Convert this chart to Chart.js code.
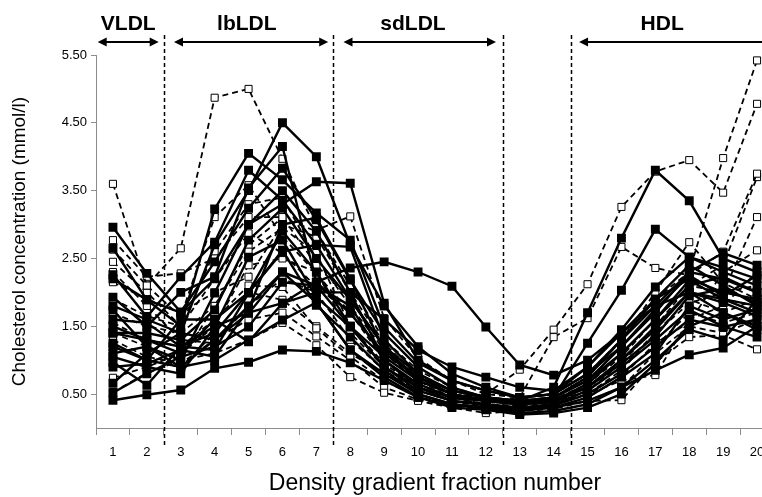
<!DOCTYPE html>
<html>
<head>
<meta charset="utf-8">
<script src="https://cdn.jsdelivr.net/npm/chart.js@4.4.1/dist/chart.umd.min.js"></script>
<style>
  html, body { margin: 0; padding: 0; background: #fff; overflow: hidden; }
  #wrap { width: 762px; height: 497px; overflow: hidden; position: relative; }
  #box { position: absolute; left: 0; top: 0; width: 790px; height: 497px; }
</style>
</head>
<body>
<div id="wrap"><div id="box"><canvas id="chart"></canvas></div></div>
<script>
// fraction numbers on the x axis
const fractions = ['1','2','3','4','5','6','7','8','9','10','11','12','13','14','15','16','17','18','19','20'];
const yTicks = [0.5, 1.5, 2.5, 3.5, 4.5, 5.5];

// lipoprotein regions (in fraction units) and the dashed dividers
const regionLabels = ['VLDL', 'lbLDL', 'sdLDL', 'HDL'];
const regionFrom = [0.55, 2.8, 7.8, 14.75];
const regionTo = [2.35, 7.35, 12.3, 20.6];
const regionLabelAt = [1.45, 4.95, 9.85, 17.2];
const dividers = [2.5, 7.5, 12.5, 14.5];

// solid lines, filled squares (mmol/l, fraction 1..20)
const solid1 = [1.80, 1.60, 1.40, 2.70, 3.50, 4.50, 4.00, 2.70, 1.80, 1.20, 0.80, 0.60, 0.45, 0.50, 0.90, 1.40, 1.90, 2.20, 2.00, 1.90];
const solid2 = [2.20, 1.89, 1.70, 2.20, 3.00, 3.30, 3.63, 3.61, 1.84, 1.00, 0.70, 0.55, 0.45, 0.50, 0.80, 1.30, 1.80, 2.30, 2.20, 2.00];
const solid3 = [1.40, 1.30, 1.20, 1.50, 1.70, 1.84, 2.15, 2.36, 2.45, 2.30, 2.09, 1.49, 0.93, 0.78, 1.00, 1.40, 1.80, 2.00, 1.90, 1.80];
const solid4 = [1.20, 1.00, 0.90, 1.30, 1.80, 2.30, 2.10, 1.50, 0.90, 0.60, 0.45, 0.40, 0.40, 0.60, 1.70, 2.80, 3.80, 3.35, 2.50, 2.30];
const solid5 = [1.50, 1.30, 1.10, 1.60, 2.00, 2.60, 2.70, 1.90, 1.20, 0.70, 0.50, 0.40, 0.35, 0.45, 1.25, 2.03, 2.93, 2.52, 2.37, 2.20];
const solid6 = [0.41, 0.49, 0.56, 0.88, 0.97, 1.15, 1.13, 0.96, 0.70, 0.45, 0.33, 0.30, 0.25, 0.30, 0.40, 0.60, 0.85, 1.08, 1.18, 1.50];
const solid7 = [2.96, 2.28, 1.71, 2.45, 3.24, 3.83, 3.07, 2.18, 1.40, 0.90, 0.60, 0.45, 0.40, 0.45, 0.70, 1.10, 1.60, 2.18, 1.90, 1.70];
const solid8 = [2.65, 1.89, 1.50, 3.23, 4.05, 3.66, 3.17, 2.77, 1.49, 0.96, 0.70, 0.55, 0.45, 0.50, 0.80, 1.20, 1.70, 2.30, 2.58, 2.40];
const solid9 = [2.26, 1.64, 2.23, 2.74, 3.80, 3.36, 2.70, 2.67, 1.30, 0.80, 0.55, 0.45, 0.40, 0.45, 0.75, 1.30, 1.90, 2.40, 2.10, 1.80];
const solid10 = [1.93, 1.50, 2.00, 2.23, 3.54, 4.15, 2.15, 1.69, 1.10, 0.75, 0.50, 0.40, 0.35, 0.40, 0.60, 1.00, 1.50, 2.00, 1.70, 1.50];
const solid11 = [1.74, 1.20, 1.00, 1.99, 3.00, 3.50, 2.90, 2.00, 1.00, 0.60, 0.40, 0.35, 0.30, 0.35, 0.55, 0.90, 1.30, 1.74, 1.50, 1.34];
const solid12 = [1.40, 1.40, 1.30, 1.74, 2.77, 3.24, 2.50, 1.89, 1.20, 0.80, 0.55, 0.45, 0.38, 0.40, 0.65, 1.10, 1.60, 2.10, 2.23, 2.00];
const solid13 = [1.05, 0.90, 0.80, 1.49, 2.52, 2.77, 1.93, 1.49, 0.90, 0.55, 0.40, 0.33, 0.28, 0.33, 0.50, 0.80, 1.20, 1.60, 1.49, 1.60];
const solid14 = [0.97, 0.63, 1.20, 1.15, 1.99, 2.62, 1.81, 1.34, 0.85, 0.50, 0.35, 0.30, 0.22, 0.25, 0.35, 0.60, 1.00, 1.45, 1.30, 1.90];
const solid15 = [0.66, 1.10, 1.40, 1.30, 1.69, 2.30, 1.85, 1.15, 0.75, 0.46, 0.30, 0.27, 0.20, 0.22, 0.30, 0.50, 0.95, 1.50, 1.70, 1.45];
const solid16 = [0.52, 0.80, 1.05, 1.20, 1.49, 2.15, 2.10, 1.80, 1.00, 0.65, 0.45, 0.40, 0.35, 0.38, 0.60, 1.00, 1.45, 2.00, 1.85, 1.65];
const solid17 = [1.25, 1.00, 1.60, 1.60, 1.27, 1.84, 2.00, 2.00, 1.60, 1.15, 0.90, 0.75, 0.60, 0.55, 0.90, 1.45, 2.08, 2.52, 2.30, 2.10];
const solid18 = [1.10, 1.20, 0.90, 1.00, 1.30, 1.59, 1.85, 1.15, 0.80, 0.50, 0.35, 0.30, 0.28, 0.30, 0.45, 0.75, 1.10, 1.80, 1.60, 1.75];
const solid19 = [1.60, 1.55, 1.20, 1.40, 2.00, 2.90, 2.30, 1.50, 1.05, 0.70, 0.50, 0.42, 0.38, 0.45, 0.70, 1.20, 1.75, 2.25, 1.95, 2.25];
const solid20 = [0.90, 0.95, 1.15, 1.05, 1.75, 3.00, 3.10, 2.20, 1.15, 0.75, 0.55, 0.45, 0.40, 0.42, 0.60, 0.95, 1.35, 1.95, 2.05, 1.85];

// dashed lines, open squares
const dashed1 = [3.60, 2.10, 2.65, 4.87, 5.00, 3.97, 2.92, 3.12, 1.62, 1.03, 0.70, 0.50, 0.45, 0.50, 0.80, 1.30, 2.00, 2.74, 2.14, 1.90];
const dashed2 = [2.77, 2.23, 2.28, 2.50, 3.11, 3.11, 2.40, 1.90, 1.20, 0.80, 0.55, 0.45, 0.40, 0.45, 0.75, 1.30, 1.90, 2.30, 3.98, 5.42];
const dashed3 = [2.63, 2.10, 1.64, 3.11, 3.58, 2.82, 2.28, 1.70, 1.00, 0.65, 0.45, 0.50, 0.86, 1.45, 2.12, 3.26, 3.78, 3.95, 3.47, 4.78];
const dashed4 = [2.45, 2.00, 1.50, 2.20, 2.87, 2.58, 2.08, 1.70, 1.10, 0.70, 0.50, 0.40, 0.45, 1.34, 1.62, 2.67, 2.36, 2.25, 2.60, 3.75];
const dashed5 = [2.15, 1.90, 1.70, 2.00, 2.23, 3.00, 2.82, 2.00, 1.25, 0.75, 0.50, 0.40, 0.35, 0.40, 0.60, 1.00, 1.50, 2.10, 2.40, 3.70];
const dashed6 = [1.69, 1.50, 1.40, 1.80, 2.60, 2.95, 2.58, 1.50, 0.95, 0.60, 0.40, 0.35, 0.30, 0.35, 0.50, 0.85, 1.40, 1.84, 2.00, 3.11];
const dashed7 = [1.55, 1.30, 1.20, 1.60, 2.10, 2.08, 1.47, 1.05, 0.70, 0.45, 0.35, 0.30, 0.28, 0.30, 0.45, 0.75, 1.25, 1.56, 2.30, 2.62];
const dashed8 = [1.40, 1.20, 1.00, 1.10, 1.30, 1.55, 1.22, 0.75, 0.52, 0.40, 0.30, 0.22, 0.25, 0.30, 0.40, 0.41, 0.97, 1.34, 1.37, 1.16];
const dashed9 = [1.22, 1.00, 0.90, 1.40, 2.00, 1.89, 1.50, 1.10, 0.80, 0.55, 0.40, 0.35, 0.30, 0.33, 0.50, 0.70, 0.78, 1.60, 1.80, 2.30];
const dashed10 = [0.74, 0.90, 1.10, 1.50, 2.40, 2.50, 2.30, 1.40, 0.90, 0.60, 0.45, 0.35, 0.33, 0.38, 0.55, 0.90, 1.40, 1.90, 1.70, 1.90];
const dashed11 = [0.53, 0.81, 1.00, 1.80, 2.70, 3.10, 2.90, 2.10, 1.30, 0.85, 0.60, 0.45, 0.40, 0.42, 0.65, 1.05, 1.60, 2.10, 2.00, 2.10];
const dashed12 = [2.30, 1.80, 1.30, 1.25, 1.80, 2.20, 2.00, 1.30, 0.85, 0.55, 0.40, 0.30, 0.30, 0.35, 0.50, 0.80, 1.20, 1.70, 1.55, 1.70];
const dashed13 = [1.90, 1.65, 1.50, 2.60, 3.30, 3.40, 2.50, 1.80, 1.15, 0.70, 0.45, 0.35, 0.30, 0.35, 0.55, 0.95, 1.50, 2.00, 1.90, 1.80];
const dashed14 = [1.30, 1.05, 0.95, 1.30, 1.60, 1.70, 1.35, 1.00, 0.60, 0.42, 0.33, 0.28, 0.25, 0.28, 0.40, 0.60, 1.10, 1.50, 1.40, 1.60];

const solidSeries = [solid1, solid2, solid3, solid4, solid5, solid6, solid7, solid8, solid9, solid10,
                     solid11, solid12, solid13, solid14, solid15, solid16, solid17, solid18, solid19, solid20];
const dashedSeries = [dashed1, dashed2, dashed3, dashed4, dashed5, dashed6, dashed7,
                      dashed8, dashed9, dashed10, dashed11, dashed12, dashed13, dashed14];

const FONT = "'Liberation Sans', Arial, sans-serif";
const AXIS_GREY = '#8c8c8c';

// first dataset is drawn on top, so the filled series go first
const datasets = [];
solidSeries.forEach(function(vals) {
    datasets.push({
        data: vals,
        borderColor: '#000',
        borderWidth: 2.4,
        pointStyle: 'rect',
        pointRadius: 6.3,
        pointBackgroundColor: '#000',
        pointBorderColor: '#000',
        pointBorderWidth: 0,
        tension: 0
    });
});
dashedSeries.forEach(function(vals) {
    datasets.push({
        data: vals,
        borderColor: '#000',
        borderWidth: 1.8,
        borderDash: [6, 4],
        pointStyle: 'rect',
        pointRadius: 5,
        pointBackgroundColor: '#fff',
        pointBorderColor: '#000',
        pointBorderWidth: 1,
        tension: 0
    });
});

// dividers, arrows and region names above the plot
const regionPlugin = {
    id: 'regions',
    afterDraw(chart) {
        const ctx = chart.ctx;
        const xs = chart.scales.x;
        const step = xs.getPixelForValue(1) - xs.getPixelForValue(0);
        const px = f => xs.getPixelForValue(0) + (f - 1) * step;

        ctx.save();
        ctx.strokeStyle = '#000';
        ctx.lineWidth = 1.5;
        ctx.setLineDash([4, 3]);
        dividers.forEach(function(f) {
            const x = Math.round(px(f)) + 0.5;
            ctx.beginPath();
            ctx.moveTo(x, 35);
            ctx.lineTo(x, 447);
            ctx.stroke();
        });
        ctx.setLineDash([]);

        const ay = 42;
        ctx.lineWidth = 2;
        ctx.fillStyle = '#000';
        ctx.font = 'bold 21px ' + FONT;
        ctx.textAlign = 'center';
        ctx.textBaseline = 'middle';
        regionLabels.forEach(function(name, i) {
            const x0 = px(regionFrom[i]);
            const x1 = px(regionTo[i]);
            ctx.beginPath();
            ctx.moveTo(x0 + 6, ay);
            ctx.lineTo(x1 - 6, ay);
            ctx.stroke();
            ctx.beginPath();
            ctx.moveTo(x0, ay);
            ctx.lineTo(x0 + 9, ay - 4.5);
            ctx.lineTo(x0 + 9, ay + 4.5);
            ctx.closePath();
            ctx.fill();
            ctx.beginPath();
            ctx.moveTo(x1, ay);
            ctx.lineTo(x1 - 9, ay - 4.5);
            ctx.lineTo(x1 - 9, ay + 4.5);
            ctx.closePath();
            ctx.fill();
            ctx.fillText(name, px(regionLabelAt[i]), 24);
        });
        ctx.restore();
    }
};

new Chart(document.getElementById('chart').getContext('2d'), {
    type: 'line',
    data: { labels: fractions, datasets: datasets },
    plugins: [regionPlugin],
    options: {
        responsive: true,
        maintainAspectRatio: false,
        animation: false,
        layout: { padding: { top: 55, right: 16, left: 0, bottom: 0 } },
        plugins: { legend: { display: false }, tooltip: { enabled: false } },
        scales: {
            x: {
                type: 'category',
                offset: true,
                grid: { offset: true, drawOnChartArea: false, tickLength: 7, color: AXIS_GREY },
                border: { color: AXIS_GREY, width: 1 },
                ticks: { color: '#000', font: { family: FONT, size: 13 }, padding: 10, maxRotation: 0, autoSkip: false },
                title: {
                    display: true,
                    text: 'Density gradient fraction number',
                    color: '#000',
                    font: { family: FONT, size: 23 },
                    padding: { top: 2, bottom: 0 }
                },
                afterFit(scale) { scale.height = 69; }
            },
            y: {
                min: 0,
                max: 5.5,
                afterBuildTicks(scale) { scale.ticks = yTicks.map(v => ({ value: v })); },
                grid: { drawOnChartArea: false, tickLength: 5, color: AXIS_GREY },
                border: { color: AXIS_GREY, width: 1 },
                ticks: {
                    color: '#000',
                    font: { family: FONT, size: 13 },
                    padding: 4,
                    callback: v => Number(v).toFixed(2)
                },
                title: {
                    display: true,
                    text: 'Cholesterol concentration (mmol/l)',
                    color: '#000',
                    font: { family: FONT, size: 19 },
                    padding: { top: 8, bottom: 2 }
                },
                afterFit(scale) { scale.width = 96; }
            }
        }
    }
});
</script>
</body>
</html>
